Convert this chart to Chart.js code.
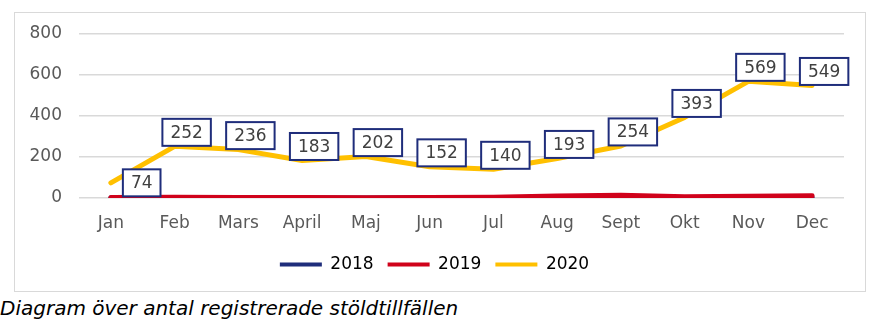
<!DOCTYPE html>
<html>
<head>
<meta charset="utf-8">
<script src="https://cdn.jsdelivr.net/npm/chart.js@4.4.1/dist/chart.umd.min.js"></script>
<style>
  body { margin: 0; background: #ffffff; font-family: "DejaVu Sans", Verdana, sans-serif; }
  #box {
    position: absolute; left: 14px; top: 12px;
    width: 850px; height: 278px;
    border: 1px solid #d9d9d9;
  }
  #caption {
    position: absolute; left: 0; top: 296px;
    font-style: italic; font-size: 20px; color: #000;
  }
</style>
</head>
<body>
<div id="box"><canvas id="stoldChart" width="850" height="278"></canvas></div>
<div id="caption">Diagram över antal registrerade stöldtillfällen</div>

<script>
  const manader = ["Jan", "Feb", "Mars", "April", "Maj", "Jun", "Jul", "Aug", "Sept", "Okt", "Nov", "Dec"];
  const ar2018 = [1, 1, 0, 0, 0, 1, 1, 2, 3, 1, 1, 2];
  const ar2019 = [3, 4, 3, 2, 1, 3, 4, 10, 14, 6, 8, 11];
  const ar2020 = [74, 252, 236, 183, 202, 152, 140, 193, 254, 393, 569, 549];
  const yTicks = [0, 200, 400, 600, 800];

  const textGray = "#595959";
  const font = { family: "DejaVu Sans", size: 17 };

  // boxed value labels on the 2020 line
  const vardeEtiketter = {
    id: "vardeEtiketter",
    afterDatasetsDraw(chart) {
      const ctx = chart.ctx;
      const meta = chart.getDatasetMeta(2);
      ctx.save();
      ctx.font = "17px 'DejaVu Sans'";
      ctx.textAlign = "center";
      ctx.textBaseline = "middle";
      meta.data.forEach((pt, i) => {
        const txt = String(ar2020[i]);
        const w = ctx.measureText(txt).width + 16;
        const h = 27;
        let cx = pt.x + 12, cy = pt.y - 14;
        if (i === 0) { cx = pt.x + w / 2 + 12; cy = pt.y; }
        ctx.fillStyle = "#ffffff";
        ctx.fillRect(cx - w / 2, cy - h / 2, w, h);
        ctx.strokeStyle = "#1f2d7b";
        ctx.lineWidth = 2;
        ctx.strokeRect(cx - w / 2, cy - h / 2, w, h);
        ctx.fillStyle = "#404040";
        ctx.fillText(txt, cx, cy + 1);
      });
      ctx.restore();
    }
  };

  new Chart(document.getElementById("stoldChart"), {
    type: "line",
    data: {
      labels: manader,
      datasets: [
        { label: "2018", data: ar2018, borderColor: "#1f2d7b", backgroundColor: "#1f2d7b", order: 2 },
        { label: "2019", data: ar2019, borderColor: "#d0021b", backgroundColor: "#d0021b", order: 1 },
        { label: "2020", data: ar2020, borderColor: "#ffc000", backgroundColor: "#ffc000", order: 0 },
      ],
    },
    options: {
      responsive: false,
      animation: false,
      elements: {
        line: { borderWidth: 5, tension: 0, borderCapStyle: "round", borderJoinStyle: "round" },
        point: { radius: 0, hoverRadius: 0 },
      },
      layout: { padding: { left: 10, right: 21, top: 21, bottom: 8 } },
      scales: {
        x: {
          offset: true,
          grid: { display: false, drawTicks: false },
          border: { display: false },
          ticks: { color: textGray, font: font, padding: 15, maxRotation: 0, autoSkip: false },
          afterFit: (s) => { s.height = 44; },
        },
        y: {
          min: 0,
          max: 800,
          afterBuildTicks: (s) => { s.ticks = yTicks.map((v) => ({ value: v })); },
          grid: { color: "#d9d9d9", lineWidth: 1.5, drawTicks: false },
          border: { display: false },
          ticks: { color: textGray, font: font, padding: 17 },
          afterFit: (s) => { s.width = 54; s.paddingTop = 0; s.paddingBottom = 0; },
        },
      },
      plugins: {
        legend: {
          position: "bottom",
          labels: {
            color: textGray,
            font: font,
            boxWidth: 42,
            boxHeight: 4,
            padding: 14,
            generateLabels: (chart) =>
              chart.data.datasets.map((ds, i) => ({
                text: ds.label,
                fillStyle: ds.borderColor,
                strokeStyle: ds.borderColor,
                lineWidth: 0,
                datasetIndex: i,
              })),
          },
        },
        tooltip: { enabled: false },
      },
    },
    plugins: [vardeEtiketter],
  });
</script>
</body>
</html>
